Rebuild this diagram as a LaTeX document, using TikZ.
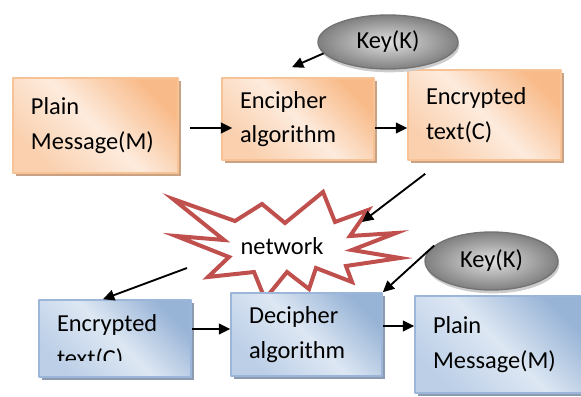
\documentclass[tikz,border=0pt]{standalone}
\usepackage{fontspec}
\setmainfont{Carlito}
\usetikzlibrary{arrows.meta,shapes.geometric,shadows}
\definecolor{orgline}{HTML}{F7C296}
\definecolor{orgdark}{HTML}{F8BA88}
\definecolor{orglight}{HTML}{FDEBDD}
\definecolor{orgmid}{HTML}{FAD0AE}
\definecolor{orgshadow}{HTML}{C9A283}
\definecolor{bluline}{HTML}{9BB6D8}
\definecolor{bludark}{HTML}{97B3D6}
\definecolor{blulight}{HTML}{DDE7F3}
\definecolor{blumid}{HTML}{BCCFE7}
\definecolor{blushadow}{HTML}{8C9BB0}
\definecolor{starred}{HTML}{C0504D}
\begin{document}
\begin{tikzpicture}[x=0.75pt, y=-0.75pt, font=\fontsize{18.3}{26}\selectfont, line join=round,
  arr/.style={-{Triangle[length=8.5pt,width=8pt]}, line width=1.4pt},
  box/.style={rectangle, inner xsep=13.5pt, inner ysep=0pt, align=left, line width=1.2pt},
  orangebox/.style={box, draw=orgline, top color=orgdark, bottom color=orgmid, middle color=orglight, shading angle=-45,
    drop shadow={shadow xshift=2.2pt, shadow yshift=-2.2pt, fill=orgshadow, opacity=1}},
  bluebox/.style={box, draw=bluline, top color=bludark, bottom color=blumid, middle color=blulight, shading angle=-45,
    drop shadow={shadow xshift=2.2pt, shadow yshift=-2.2pt, fill=blushadow, opacity=1}},
  keynode/.style={ellipse, inner sep=0pt, draw=black!55, line width=1pt, inner color=black!12, outer color=black!50,
    drop shadow={shadow xshift=1pt, shadow yshift=-2.5pt, fill=black!20, opacity=1}},
  starline/.style={draw=starred, line width=3pt, fill=white, line join=miter, miter limit=10}]
  \useasboundingbox (0,0) rectangle (581,396);

  \node[orangebox, text width=96.75pt, minimum height=71.25pt] (plainT) at (95.5,125.5) {Plain\\Message(M)};
  \node[orangebox, text width=87pt, minimum height=61.5pt] (encA) at (298,119) {Encipher\\algorithm};
  \node[orangebox, text width=87.75pt, minimum height=67.5pt] (encT) at (484.5,115) {Encrypted\\text(C)};
  \node[keynode, minimum width=105pt, minimum height=40.5pt] (keyT) at (388,42) {Key(K)};

  \draw[starline] (173,199) -- (235,221) -- (262,204) -- (285,223) -- (323,192) -- (335,222) -- (368,210)
    -- (350,236) -- (396,233) -- (352,250) -- (400,258) -- (346,266) -- (352,282) -- (316,268) -- (309,289)
    -- (287,272) -- (265,299) -- (254,272) -- (208,277) -- (229,257) -- (176,236) -- (224,240) -- cycle;
  \node (net) at (282,246) {network};
  \path (362,222) coordinate (netin)
        (187,268) coordinate (netout);

  \node[keynode, minimum width=99.75pt, minimum height=43.5pt] (keyB) at (491.5,261) {Key(K)};
  \node[bluebox, text width=87pt, minimum height=57.75pt] (encB) at (115,338.5) {};
  \begin{scope}
    \clip (encB.north west) rectangle ([shift={(0,-17)}]encB.south east);
    \node[box, text width=87pt] (encBtext) at ([shift={(0,4)}]encB.center) {Encrypted\\text(C)};
  \end{scope}
  \node[bluebox, text width=86.25pt, minimum height=62.25pt] (decA) at (306.5,334.5) {Decipher\\algorithm};
  \node[bluebox, text width=100.5pt, minimum height=72.75pt] (plainB) at (500,344.5) {Plain\\Message(M)};

  \draw[arr] ([shift={(11,2.5)}]plainT.east) -- ([shift={(11,2.5)}]plainT.east -| encA.west);
  \draw[arr] ([shift={(0,9)}]encA.east) -- ([shift={(0,9)}]encA.east -| encT.west);
  \draw[arr] (keyT.190) -- ([shift={(-6,-10)}]encA.north);
  \draw[arr] ([shift={(18,13)}]encT.south west) -- (netin);
  \draw[arr] (netout) -- ([shift={(-12,0)}]encB.north);
  \draw[arr] (keyB.165) -- (decA.north east);
  \draw[arr] ([shift={(0,-9.5)}]encB.east) -- ([shift={(0,-9.5)}]encB.east -| decA.west);
  \draw[arr] ([shift={(0,-8.5)}]decA.east) -- ([shift={(0,-8.5)}]decA.east -| plainB.west);
\end{tikzpicture}
\end{document}
